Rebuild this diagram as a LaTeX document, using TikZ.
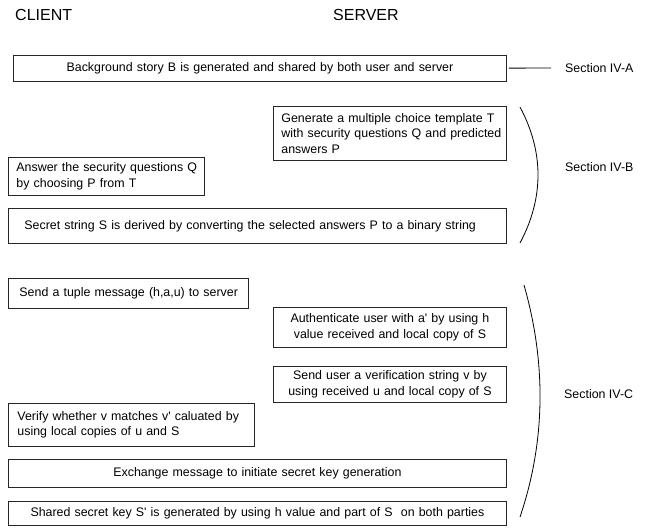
\documentclass[tikz,border=0pt]{standalone}
\usepackage{fontspec}
\setmainfont{Liberation Sans}
\newcommand{\apos}{\textquotesingle}

\begin{document}
\begin{tikzpicture}[x=1pt,y=-1pt,
    every node/.style={font=\fontsize{12.4}{15.5}\selectfont},
    box/.style={draw=black!85,line width=0.9pt,anchor=north west,inner sep=0pt},
    head/.style={anchor=west,inner sep=0pt,font=\fontsize{16}{18}\selectfont},
    lbl/.style={anchor=west,inner sep=0pt,font=\fontsize{12.4}{15}\selectfont},
    brace/.style={draw=black,line width=0.8pt}]
        \useasboundingbox (0,0) rectangle (655,527);

        \node[head] (client) at (15,15) {CLIENT};
        \node[head] (server) at (333,15) {SERVER};

        \node[box,minimum width=493pt,minimum height=26pt,text width=470pt,align=center] (1) at (13,55) {Background story B is generated and shared by both user and server};
        \node[box,minimum width=233pt,minimum height=54pt,text width=217pt,align=left] (2) at (273,106) {\mbox{Generate a multiple choice template T}\\\mbox{with security questions Q and predicted}\\answers P};
        \node[box,minimum width=196pt,minimum height=38pt,text width=180pt,align=left] (3) at (8,157) {\mbox{Answer the security questions Q}\\by choosing P from T};
        \node[box,minimum width=498pt,minimum height=35pt,text width=466pt,align=left] (4) at (8,208) {Secret string S is derived by converting the selected answers P to a binary string};
        \node[box,minimum width=240pt,minimum height=30pt,text width=218pt,align=left] (5) at (8,278) {\mbox{Send a tuple message (h,a,u) to server}};
        \node[box,minimum width=233pt,minimum height=40pt,text width=225pt,align=center] (6) at (273,307) {Authenticate user with a\apos{} by using h\\value received and local copy of S};
        \node[box,minimum width=233pt,minimum height=36pt,text width=225pt,align=center] (7) at (273,366) {Send user a verification string v by\\using received u and local copy of S};
        \node[box,minimum width=246pt,minimum height=43pt,text width=228pt,align=left] (8) at (8,403) {\mbox{Verify whether v matches v\apos{} caluated by}\\using local copies of u and S};
        \node[box,minimum width=498pt,minimum height=28pt,text width=480pt,align=center] (9) at (8,459) {Exchange message to initiate secret key generation};
        \node[box,minimum width=498pt,minimum height=24pt,text width=480pt,align=center] (10) at (8,501) {Shared secret key S\apos{} is generated by using h value and part of S\ \ on both parties};

        \node[lbl] (A) at (565,68) {Section IV-A};
        \node[lbl] (B) at (565,167) {Section IV-B};
        \node[lbl] (C) at (564,394) {Section IV-C};

        % section marks
        \draw[line width=0.8pt,shorten <=2pt,shorten >=14pt] (1) -- (A);
        \coordinate (b1) at (520,107);
        \coordinate (b2) at (520,243);
        \coordinate (c1) at (524,285);
        \coordinate (c2) at (520,517);
        \path[brace] (b1) .. controls (544,152) and (544,198) .. (b2);
        \path[brace] (c1) .. controls (546,362) and (546,440) .. (c2);
\end{tikzpicture}
\end{document}
